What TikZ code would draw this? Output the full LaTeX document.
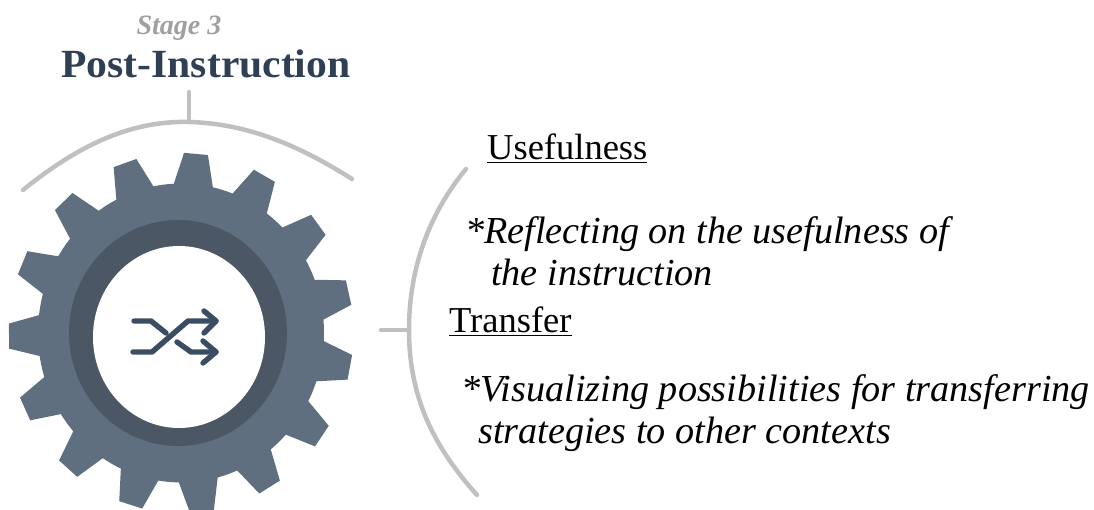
\documentclass[tikz,border=0pt]{standalone}
\usepackage{fontspec}
\setmainfont{Liberation Serif}
\usepackage{xcolor}
\usetikzlibrary{positioning, calc}
\definecolor{gearcolor}{RGB}{95, 111, 128}
\definecolor{ringcolor}{RGB}{75, 87, 100}
\definecolor{iconcolor}{RGB}{59, 77, 99}
\definecolor{arccolor}{RGB}{192, 192, 192}
\definecolor{titlecolor}{RGB}{47, 63, 84}
\definecolor{stagecolor}{RGB}{160, 160, 160}

\begin{document}
\begin{tikzpicture}[
    x=1pt, y=1pt,
    bracket/.style={draw=arccolor, line width=4.5pt, line cap=round},
    shuffle/.style={draw=iconcolor, line width=5.4pt, line cap=round, line join=round},
    heading/.style={anchor=base west, inner sep=0pt, font=\fontsize{36.5}{36.5}\selectfont},
    detail/.style={anchor=base west, inner sep=0pt, font=\fontsize{38.2}{38.2}\selectfont\itshape},
]
    \useasboundingbox (0, 0) rectangle (1094, 510);

    % Title
    \node[anchor=base, inner sep=0pt, font=\fontsize{28}{28}\selectfont\bfseries\itshape, text=stagecolor] (stage) at (179, 475) {Stage 3};
    \node[anchor=base, inner sep=0pt, font=\fontsize{40}{40}\selectfont\bfseries, text=titlecolor, xscale=1.04] (title) at (206, 432) {Post-Instruction};

    % Gear
    \begin{scope}
        \clip (0, 0) rectangle (1094, 510);
        \begin{scope}[shift={(181, 177)}, yscale=1.045]
            \fill[gearcolor] (0, 0) circle (143);
            \foreach \ang in {85, 61, 37, 13, -11, -35, -59, -83, -107, -131, -155, -179, -203, -227, -251} {
                \fill[gearcolor, rotate=\ang] (138, -20.5) -- (172, -12) -- (172, 12) -- (138, 20.5) -- cycle;
            }
        \end{scope}
    \end{scope}
    \fill[ringcolor] (178, 177) ellipse (109 and 113);
    \fill[white] (179, 173) ellipse (86 and 91);

    % Icon
    \draw[shuffle] (134, 189) -- (151, 189) -- (166, 177);
    \draw[shuffle] (133, 158) -- (152, 158) -- (188, 189) -- (216, 189);
    \draw[shuffle] (204, 199) -- (216, 189) -- (204, 177);
    \draw[shuffle] (177, 168) -- (191, 158) -- (216, 158);
    \draw[shuffle] (203, 169) -- (216, 158) -- (203, 147);

    % Brackets
    \coordinate (topleft) at (23, 320);
    \coordinate (topmid) at (189, 388);
    \coordinate (topright) at (352, 331);
    \coordinate (topstub) at (189, 418);
    \coordinate (rightup) at (466, 341);
    \coordinate (rightmid) at (409, 180);
    \coordinate (rightdown) at (477, 15);
    \coordinate (rightstub) at (381, 180);
    \draw[bracket] (topleft) .. controls (80, 366) and (132, 389.5) .. (topmid) .. controls (248, 386.5) and (300, 364) .. (topright);
    \draw[bracket] (topstub) -- (topmid);
    \draw[bracket] (rightup) .. controls (428, 295) and (409, 240) .. (rightmid) .. controls (409, 115) and (432, 65) .. (rightdown);
    \draw[bracket] (rightstub) -- (rightmid);

    % Text
    \node[heading] (useful) at (487, 350) {\underline{Usefulness}};
    \node[detail] (reflect) at (465, 266) {*Reflecting on the usefulness of};
    \node[detail] (reflectb) at (491, 224) {the instruction};
    \node[heading] (transfer) at (449, 177) {\underline{Transfer}};
    \node[detail] (visual) at (461, 108) {*Visualizing possibilities for transferring};
    \node[detail] (visualb) at (478, 66) {strategies to other contexts};
\end{tikzpicture}
\end{document}
